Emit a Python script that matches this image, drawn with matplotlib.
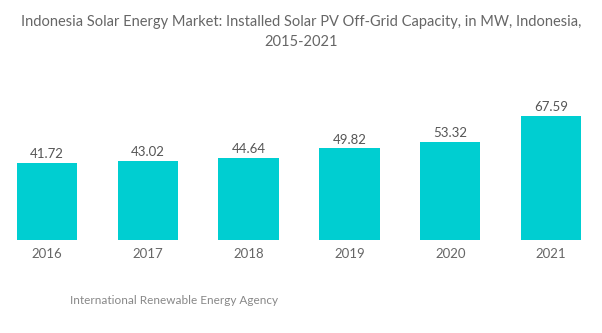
import matplotlib
matplotlib.use("Agg")
import matplotlib.pyplot as plt

years = ["2016", "2017", "2018", "2019", "2020", "2021"]
values = [41.72, 43.02, 44.64, 49.82, 53.32, 67.59]
value_labels = ["41.72", "43.02", "44.64", "49.82", "53.32", "67.59"]

title = "Indonesia Solar Energy Market: Installed Solar PV Off-Grid Capacity, in MW, Indonesia,\n2015-2021"
source = "International Renewable Energy Agency"

plt.rcParams['font.family'] = ['Lato', 'DejaVu Sans']

fig = plt.figure(figsize=(6.02, 3.33), dpi=100)
ax = fig.add_axes([0.0, (333 - 240) / 333, 1.0, 138 / 333])

x = list(range(len(years)))
bars = ax.bar(x, values, width=0.6, color="#00CED1")
for xi, v, lab in zip(x, values, value_labels):
    ax.text(xi, v + 1.5, lab, ha="center", va="bottom", fontsize=9.5, color="#555555")

ax.set_xlim(-0.466, 5.506)
ax.set_ylim(0, 75)
ax.set_xticks(x)
ax.set_xticklabels(years, fontsize=9.5, color="#666666")
ax.tick_params(axis="x", length=0, pad=6)
ax.set_yticks([])
for s in ax.spines.values():
    s.set_visible(False)

fig.text(301 / 602, 1 - 15 / 333, title, ha="center", va="top", fontsize=10.5,
         color="#666666", linespacing=1.55)
fig.text(70 / 602, 1 - 300 / 333, source, ha="left", va="center", fontsize=8.5, color="#888888")

fig.savefig("out.png", dpi=100)
